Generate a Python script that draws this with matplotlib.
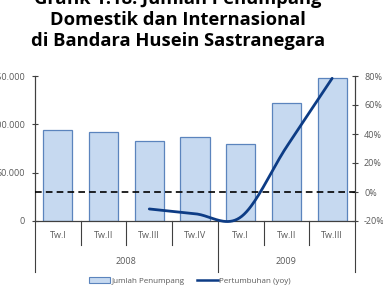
import numpy as np
import matplotlib
matplotlib.use("Agg")
import matplotlib.pyplot as plt
from matplotlib.patches import Patch
from matplotlib.lines import Line2D
import matplotlib.transforms as mtransforms

# ---- data ----
quarters = ["Tw.I", "Tw.II", "Tw.III", "Tw.IV", "Tw.I", "Tw.II", "Tw.III"]
years = ["2008", "2009"]
year_counts = [4, 3]
passengers = [93800, 91700, 82400, 86600, 79300, 122000, 147600]
growth_idx = [2, 3, 4, 5, 6]
growth = [-11.7, -15.0, -17.3, 31.0, 78.4]
left_ticks = [0, 50000, 100000, 150000]
right_ticks = [-20, 0, 20, 40, 60, 80]
title_lines = ["Grafik 1.18. Jumlah Penumpang",
               "Domestik dan Internasional",
               "di Bandara Husein Sastranegara"]

W, H = 383, 288
fig = plt.figure(figsize=(W / 100, H / 100), dpi=100)
ax = fig.add_axes([35 / W, 1 - 221 / H, 320 / W, 145 / H])
ax2 = ax.twinx()

bar_face = "#c6d9f0"
bar_edge = "#5b84bd"
line_col = "#0d3c85"
axis_col = "#404040"
text_col = "#595959"
tick_font = dict(family="Open Sans", size=6.5, color=text_col)

x = np.arange(len(passengers))
ax.bar(x, passengers, width=0.64, color=bar_face, edgecolor=bar_edge, linewidth=0.9, zorder=2)
ax.set_xlim(-0.5, len(passengers) - 0.5)
ax.set_ylim(0, 150000)
ax2.set_ylim(-20, 80)

# dashed 0% line
ax2.axhline(0, color="black", linestyle=(0, (4, 2.5)), linewidth=1.2, zorder=3)

# smoothed growth line (cardinal spline, reflected end points)
px = np.array(growth_idx, dtype=float)
py = np.array(growth, dtype=float)
ext_x = np.concatenate([[2 * px[0] - px[1]], px, [2 * px[-1] - px[-2]]])
ext_y = np.concatenate([[2 * py[0] - py[1]], py, [2 * py[-1] - py[-2]]])
xs, ys = [], []
t = np.linspace(0, 1, 40)
h00 = 2 * t**3 - 3 * t**2 + 1
h10 = t**3 - 2 * t**2 + t
h01 = -2 * t**3 + 3 * t**2
h11 = t**3 - t**2
for i in range(1, len(ext_x) - 2):
    for arr, out in ((ext_x, xs), (ext_y, ys)):
        a, b, c, d = arr[i - 1], arr[i], arr[i + 1], arr[i + 2]
        m1 = (c - a) / 2
        m2 = (d - b) / 2
        out.append(h00 * b + h10 * m1 + h01 * c + h11 * m2)
xs = np.concatenate(xs)
ys = np.concatenate(ys)
ax2.plot(xs, ys, color=line_col, linewidth=2.0, solid_capstyle="round", zorder=4, clip_on=False)

# spines
for a in (ax, ax2):
    a.spines["top"].set_visible(False)
    for s in ("left", "right", "bottom"):
        a.spines[s].set_color(axis_col)
        a.spines[s].set_linewidth(0.8)
ax.set_zorder(1)
ax2.set_zorder(2)
ax.patch.set_visible(False)

ax.set_yticks(left_ticks)
ax.set_yticklabels([f"{v:,}".replace(",", ".") for v in left_ticks], **tick_font)
ax.tick_params(axis="y", direction="inout", length=5, width=0.8, color=axis_col, pad=5)
ax2.set_yticks(right_ticks)
ax2.set_yticklabels([f"{v}%" for v in right_ticks], **tick_font)
ax2.tick_params(axis="y", direction="inout", length=5, width=0.8, color=axis_col, pad=4)
ax.set_xticks([])
ax2.set_xticks([])

# category axis
trans = mtransforms.blended_transform_factory(ax.transData, ax.transAxes)
short = -24 / 145
long_ = -51 / 145
bounds = [i + 0.5 for i in range(len(passengers) - 1)]
year_bounds = np.cumsum(year_counts)[:-1] - 0.5
for b in bounds:
    yb = long_ if np.any(np.isclose(b, year_bounds)) else short
    ax.plot([b, b], [0, yb], transform=trans, color=axis_col, lw=0.8, clip_on=False)
for b in (-0.5, len(passengers) - 0.5):
    ax.plot([b, b], [0, long_], transform=trans, color=axis_col, lw=0.8, clip_on=False)
for i, q in enumerate(quarters):
    ax.text(i, -14 / 145, q, transform=trans, ha="center", va="center", **tick_font)
start = 0
for yname, cnt in zip(years, year_counts):
    ax.text(start + (cnt - 1) / 2, -41 / 145, yname, transform=trans, ha="center", va="center", **tick_font)
    start += cnt

# title
for k, line in enumerate(title_lines):
    fig.text(178 / W, 1 - (4 + 21 * k) / H, line, ha="center", va="baseline",
             family="Open Sans", fontweight="bold", fontsize=13.2, color="black")

# legend
handles = [Patch(facecolor=bar_face, edgecolor=bar_edge, linewidth=0.8),
           Line2D([0], [0], color=line_col, lw=1.8)]
fig.legend(handles, ["Jumlah Penumpang", "Pertumbuhan (yoy)"], loc="center",
           bbox_to_anchor=(190 / W, 1 - 281 / H), ncol=2, frameon=False,
           prop=dict(family="Open Sans", size=5.8), labelcolor=text_col,
           handlelength=2.6, handleheight=0.7, handletextpad=0.1, columnspacing=1.6,
           borderpad=0, borderaxespad=0)

fig.savefig("out.png", dpi=100)
